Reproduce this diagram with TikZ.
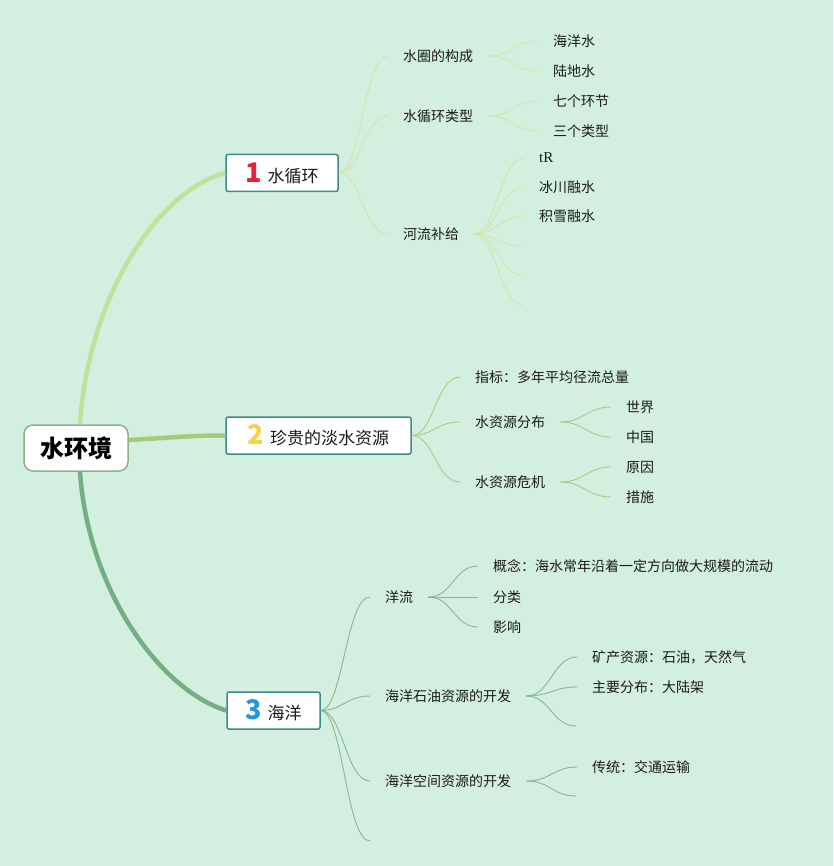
\documentclass[tikz,border=0pt]{standalone}
\usepackage{fontspec}
\setmainfont{Noto Sans CJK SC}
\newfontfamily\latinserif{Liberation Serif}
\usetikzlibrary{calc}
\definecolor{bgc}{HTML}{D3EFE0}
\definecolor{rootborder}{HTML}{8DB38D}
\definecolor{tealborder}{HTML}{3E8A86}
\definecolor{brA}{HTML}{BEE39A}
\definecolor{brB}{HTML}{A9C97B}
\definecolor{brC}{HTML}{75AD85}
\definecolor{subA}{HTML}{D2E7A4}
\definecolor{subB}{HTML}{AECB85}
\definecolor{subC}{HTML}{8BB597}
\definecolor{textc}{HTML}{1A1A1A}
\definecolor{numA}{HTML}{E8213A}
\definecolor{numB}{HTML}{F6D24B}
\definecolor{numC}{HTML}{2096DE}
\newcommand{\bignum}[2]{{\fontsize{27}{28}\selectfont\bfseries\color{#1}#2}}
\begin{document}
\begin{tikzpicture}[x=1pt,y=-1pt,
  rootbox/.style={draw=rootborder, line width=1.5pt, fill=white, rounded corners=9pt,
    minimum width=104pt, minimum height=46pt, inner sep=0pt,
    font=\fontsize{24}{26}\selectfont\bfseries, text=black},
  mainbox/.style={draw=tealborder, line width=1.5pt, fill=white, rounded corners=2pt,
    minimum height=37pt, inner sep=0pt, font=\fontsize{17}{19}\selectfont, text=textc},
  leaf/.style={anchor=west, inner xsep=15pt, inner ysep=2pt,
    font=\fontsize{14}{16}\selectfont, text=textc},
  brlineA/.style={draw=brA, line width=4.5pt},
  brlineB/.style={draw=brB, line width=4.5pt},
  brlineC/.style={draw=brC, line width=4.5pt},
  sublineA/.style={draw=subA, line width=0.9pt},
  sublineB/.style={draw=subB, line width=0.9pt},
  sublineC/.style={draw=subC, line width=0.9pt}]
\fill[bgc] (0,0) rectangle (833,866);
\useasboundingbox (0,0) rectangle (833,866);

% root and main nodes
\node[rootbox] (root) at (76,448) {水环境};
\node[mainbox, minimum width=112pt] (n1) at (282,173) {\bignum{numA}{1}\hspace{6pt}水循环};
\node[mainbox, minimum width=185pt] (n2) at (318.5,435.5) {\bignum{numB}{2}\hspace{6pt}珍贵的淡水资源};
\node[mainbox, minimum width=93pt] (n3) at (273.5,710.5) {\bignum{numC}{3}\hspace{6pt}海洋};

% main branches
\draw[brlineA] ($(root.north)+(4,0)$) .. controls (88,300) and (155,192) .. (n1.west);
\draw[brlineB] ($(root.east)+(0,-8)$) .. controls +(40,-2) and +(-40,0) .. (n2.west);
\draw[brlineC] ($(root.south)+(4,0)$) .. controls (88,590) and (160,690) .. (n3.west);

% ---- branch 1
\node[leaf] (a1) at (388,56) {水圈的构成};
\node[leaf] (a2) at (388,116) {水循环类型};
\node[leaf] (a3) at (388,234) {河流补给};
\node[leaf] (a11) at (538,41) {海洋水};
\node[leaf] (a12) at (538,71) {陆地水};
\node[leaf] (a21) at (538,101) {七个环节};
\node[leaf] (a22) at (538,131) {三个类型};
\node[leaf] (a31) at (524,158) {\latinserif\fontsize{15}{16}\selectfont tR};
\node[leaf] (a32) at (524,187) {冰川融水};
\node[leaf] (a33) at (524,216) {积雪融水};
\coordinate (a34) at (523,246);
\coordinate (a35) at (523,275);
\coordinate (a36) at (523,305);

\foreach \c in {a1,a2,a3}
  \draw[sublineA] (n1.east) .. controls +(22,0) and +(-24,0) .. (\c.west);
\foreach \c in {a11,a12}
  \draw[sublineA] (a1.east) .. controls +(24,0) and +(-24,0) .. (\c.west);
\foreach \c in {a21,a22}
  \draw[sublineA] (a2.east) .. controls +(24,0) and +(-24,0) .. (\c.west);
\foreach \c in {a31,a32,a33}
  \draw[sublineA] (a3.east) .. controls +(22,0) and +(-24,0) .. (\c.west);
\foreach \c in {a34,a35,a36}
  \draw[sublineA] (a3.east) .. controls +(22,0) and +(-24,0) .. (\c);

% ---- branch 2
\node[leaf] (b1) at (460,377) {指标：多年平均径流总量};
\node[leaf] (b2) at (460,422) {水资源分布};
\node[leaf] (b3) at (460,482) {水资源危机};
\node[leaf] (b21) at (611,407) {世界};
\node[leaf] (b22) at (611,437) {中国};
\node[leaf] (b31) at (611,467) {原因};
\node[leaf] (b32) at (611,497) {措施};
\foreach \c in {b1,b2,b3}
  \draw[sublineB] (n2.east) .. controls +(22,0) and +(-24,0) .. (\c.west);
\foreach \c in {b21,b22}
  \draw[sublineB] (b2.east) .. controls +(24,0) and +(-24,0) .. (\c.west);
\foreach \c in {b31,b32}
  \draw[sublineB] (b3.east) .. controls +(24,0) and +(-24,0) .. (\c.west);

% ---- branch 3
\node[leaf] (c1) at (370,597) {洋流};
\node[leaf] (c2) at (370,696) {海洋石油资源的开发};
\node[leaf] (c3) at (370,781) {海洋空间资源的开发};
\coordinate (c4) at (370,841);
\node[leaf] (c11) at (478,566) {概念：海水常年沿着一定方向做大规模的流动};
\node[leaf] (c12) at (478,597) {分类};
\node[leaf] (c13) at (478,627) {影响};
\node[leaf] (c21) at (577,657) {矿产资源：石油，天然气};
\node[leaf] (c22) at (577,687) {主要分布：大陆架};
\coordinate (c23) at (576,726);
\node[leaf] (c31) at (577,767) {传统：交通运输};
\coordinate (c32) at (576,796);
\foreach \c in {c1,c2,c3}
  \draw[sublineC] (n3.east) .. controls +(22,0) and +(-24,0) .. (\c.west);
\draw[sublineC] (n3.east) .. controls +(22,0) and +(-24,0) .. (c4);
\foreach \c in {c11,c12,c13}
  \draw[sublineC] (c1.east) .. controls +(24,0) and +(-24,0) .. (\c.west);
\foreach \c in {c21,c22}
  \draw[sublineC] (c2.east) .. controls +(24,0) and +(-24,0) .. (\c.west);
\draw[sublineC] (c2.east) .. controls +(24,0) and +(-24,0) .. (c23);
\draw[sublineC] (c3.east) .. controls +(24,0) and +(-24,0) .. (c31.west);
\draw[sublineC] (c3.east) .. controls +(24,0) and +(-24,0) .. (c32);
\end{tikzpicture}
\end{document}
